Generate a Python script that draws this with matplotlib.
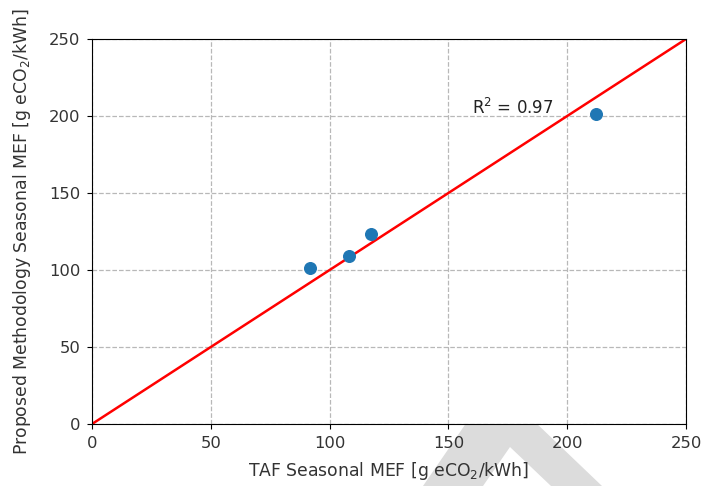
import matplotlib
matplotlib.use("Agg")
import matplotlib.pyplot as plt
from matplotlib.patches import Polygon

# TAF vs proposed methodology seasonal MEF
taf_mef = [91.8, 108.2, 117.4, 212.1]
proposed_mef = [101.3, 109.1, 123.4, 201.3]
r2_value = 0.97
ticks = [0, 50, 100, 150, 200, 250]

W, H = 702, 486
fig = plt.figure(figsize=(W / 100, H / 100), dpi=100)
ax = fig.add_axes([92 / W, 1 - 424 / H, (686 - 92) / W, (424 - 39) / H])

# grey watermark behind the axes (bottom right of page)
wm = [(423, 486), (482, 400), (512, 400), (602, 486), (551, 486), (510, 447), (483, 486)]
fig.patches.append(Polygon([(x / W, 1 - y / H) for x, y in wm], closed=True,
                           transform=fig.transFigure, facecolor='#dcdcdc',
                           edgecolor='none', zorder=-5))

ax.plot([0, 250], [0, 250], color='red', lw=1.8, zorder=2)
ax.scatter(taf_mef, proposed_mef, s=70, color='#1f77b4', zorder=3)
ax.text(160, 205, 'R$^2$ = %.2f' % r2_value, fontsize=12, va='center', ha='left',
        color='#222222')

ax.set_xlim(0, 250)
ax.set_ylim(0, 250)
ax.set_xticks(ticks)
ax.set_yticks(ticks)
ax.tick_params(labelsize=11.8, pad=5, labelcolor='#333333')
ax.grid(True, linestyle='--', color='#b8b8b8', lw=0.9)
ax.set_axisbelow(True)
ax.set_xlabel('TAF Seasonal MEF [g eCO$_2$/kWh]', fontsize=12.4, color='#333333')
ax.set_ylabel('Proposed Methodology Seasonal MEF [g eCO$_2$/kWh]', fontsize=12.4,
              color='#333333')
ax.yaxis.set_label_coords(-0.1, 0.5)
ax.xaxis.set_label_coords(0.5, -0.093)

fig.savefig('out.png', dpi=100)
